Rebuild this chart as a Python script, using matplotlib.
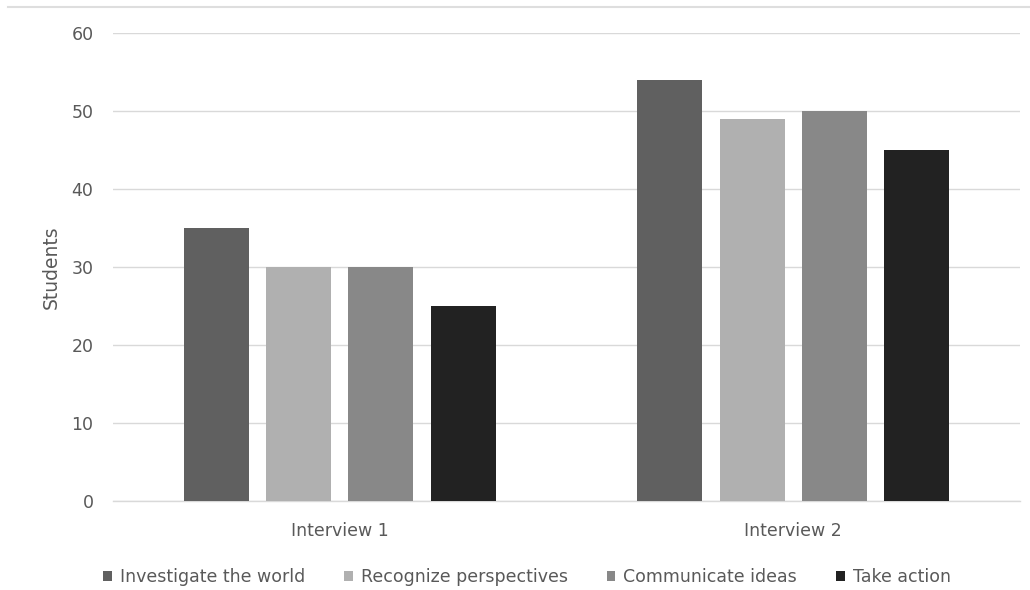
import matplotlib
matplotlib.use("Agg")
import matplotlib.pyplot as plt
from matplotlib.lines import Line2D
from matplotlib.patches import Patch
import numpy as np

categories = ["Interview 1", "Interview 2"]
series_names = ["Investigate the world", "Recognize perspectives",
                "Communicate ideas", "Take action"]
investigate = [35, 54]
recognize = [30, 49]
communicate = [30, 50]
take_action = [25, 45]
y_ticks = [0, 10, 20, 30, 40, 50, 60]

series_values = [investigate, recognize, communicate, take_action]
colors = ["#606060", "#b0b0b0", "#888888", "#222222"]
text_color = "#595959"
grid_color = "#d9d9d9"

plt.rcParams["font.family"] = ["DejaVu Sans"]

W, H = 1030, 590
fig = plt.figure(figsize=(W / 100, H / 100), dpi=100)
ax = fig.add_axes([113 / W, 1 - 501 / H, (1020 - 113) / W, (501 - 33) / H])

x = np.arange(len(categories))
step = 0.1814
width = 0.1438
for i, (vals, col, name) in enumerate(zip(series_values, colors, series_names)):
    offset = (i - 1.5) * step
    ax.bar(x + offset, vals, width=width, color=col, label=name, zorder=3)

ax.set_xlim(-0.5, len(categories) - 0.5)
ax.set_ylim(0, 60)
ax.set_yticks(y_ticks)
ax.set_xticks(x)
ax.set_xticklabels(categories)

ax.yaxis.grid(True, color=grid_color, linewidth=1.0, zorder=0)
ax.set_axisbelow(True)
for side in ["top", "right", "left"]:
    ax.spines[side].set_visible(False)
ax.spines["bottom"].set_color(grid_color)
ax.spines["bottom"].set_linewidth(1.0)

ax.tick_params(axis="both", length=0, colors=text_color, labelsize=12.5)
ax.tick_params(axis="y", pad=14)
ax.tick_params(axis="x", pad=15)

fig.text(51 / W, 1 - 267 / H, "Students", rotation=90, ha="center",
         va="center", color=text_color, fontsize=13.5)

# thin rule across the top of the figure
fig.add_artist(Line2D([8 / W, 1.0], [1 - 7 / H, 1 - 7 / H],
                      color="#dedede", linewidth=1.5, transform=fig.transFigure))

handles = [Patch(facecolor=c, edgecolor="none") for c in colors]
leg = fig.legend(handles, series_names, loc="center",
                 bbox_to_anchor=(527 / W, 1 - 577 / H), ncol=4, frameon=False,
                 handlelength=0.5, handleheight=0.5, handletextpad=0.45,
                 columnspacing=2.25, fontsize=12.5)
for t in leg.get_texts():
    t.set_color(text_color)

fig.savefig("out.png", dpi=100, facecolor="white")
